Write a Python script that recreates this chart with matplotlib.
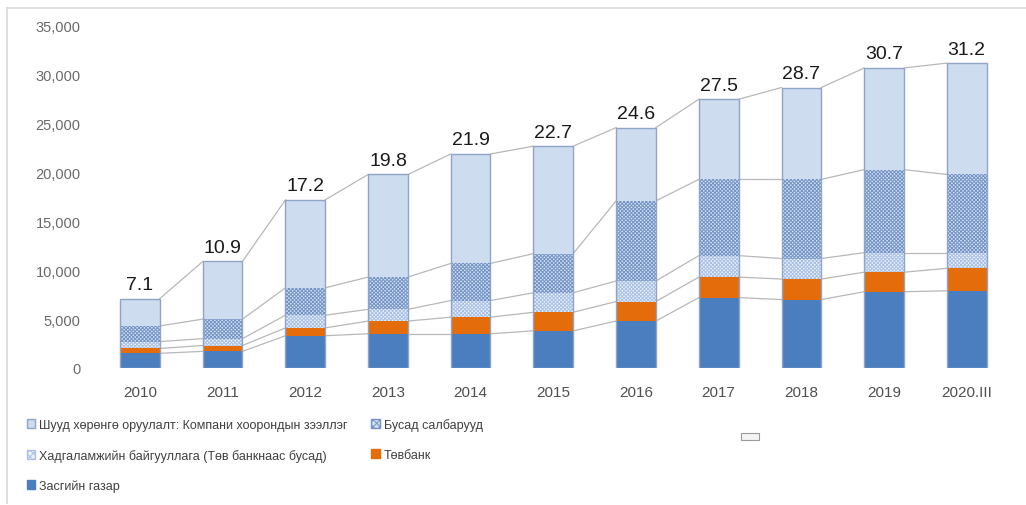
import numpy as np
import matplotlib
matplotlib.use("Agg")
import matplotlib.pyplot as plt
from matplotlib.patches import Patch, Rectangle
from matplotlib.lines import Line2D

plt.rcParams["font.family"] = ["Liberation Sans", "DejaVu Sans"]
plt.rcParams["hatch.linewidth"] = 0.7

YEARS = ["2010", "2011", "2012", "2013", "2014", "2015", "2016", "2017", "2018", "2019", "2020.III"]

# сая ам.доллар, доороос дээш давхарлагдсан
GOV = [1500, 1700, 3300, 3500, 3500, 3800, 4800, 7200, 7000, 7800, 7900]
CENTRAL_BANK = [500, 600, 800, 1300, 1700, 1900, 2000, 2100, 2100, 2000, 2300]
DEPOSIT = [700, 700, 1300, 1200, 1700, 2000, 2100, 2200, 2100, 2000, 1600]
OTHER = [1600, 2000, 2800, 3300, 3800, 4000, 8200, 7800, 8100, 8500, 8000]
FDI = [2800, 5900, 9000, 10500, 11200, 11000, 7500, 8200, 9400, 10400, 11400]
TOTALS = [7.1, 10.9, 17.2, 19.8, 21.9, 22.7, 24.6, 27.5, 28.7, 30.7, 31.2]

LABELS = {
    "gov": "Засгийн газар",
    "cb": "Төвбанк",
    "dep": "Хадгаламжийн байгууллага (Төв банкнаас бусад)",
    "other": "Бусад салбарууд",
    "fdi": "Шууд хөрөнгө оруулалт: Компани хоорондын зээллэг",
}

fig = plt.figure(figsize=(10.26, 5.06), dpi=100)
ax = fig.add_axes([0.0961, 0.2708, 0.8864, 0.6759])

x = np.arange(len(YEARS))
w = 0.48

series = [
    (GOV, dict(color="#4a7ebf", edgecolor="#4a7ebf", linewidth=0)),
    (CENTRAL_BANK, dict(color="#e46c0a", edgecolor="#e46c0a", linewidth=0)),
    (DEPOSIT, dict(color="#eaf1fa", edgecolor="#a9c1e4", hatch="xxxxxxxxx", linewidth=0)),
    (OTHER, dict(color="#d3e0f2", edgecolor="#7393c6", hatch="xxxxxxxxx", linewidth=0)),
    (FDI, dict(color="#cddcef", edgecolor="#cddcef", linewidth=0)),
]

bottom = np.zeros(len(YEARS))
tops = []
for vals, style in series:
    vals = np.array(vals, dtype=float)
    ax.bar(x, vals, w, bottom=bottom, zorder=2, **style)
    bottom = bottom + vals
    tops.append(bottom.copy())

# бар бүрийн хүрээ
ax.bar(x, bottom, w, facecolor="none", edgecolor="#8fa4c6", linewidth=1.0, zorder=3)

# серийн холбох шугамууд
for top in tops:
    for i in range(len(YEARS) - 1):
        ax.plot([x[i] + w / 2, x[i + 1] - w / 2], [top[i], top[i + 1]],
                color="#b8b8b8", linewidth=0.9, zorder=1)

for i, t in enumerate(TOTALS):
    ax.annotate(f"{t:.1f}", xy=(x[i], bottom[i]), xytext=(0, 4),
                textcoords="offset points", ha="center", va="bottom",
                fontsize=14, color="#1a1a1a")

ax.set_xlim(-0.5, len(YEARS) - 0.5)
ax.set_ylim(0, 35000)
ax.set_yticks(np.arange(0, 35001, 5000))
ax.set_yticklabels([f"{v:,}" for v in range(0, 35001, 5000)], fontsize=10.5, color="#6a6a6a")
ax.set_xticks(x)
ax.set_xticklabels(YEARS, fontsize=11, color="#505050")
ax.tick_params(length=0)
ax.tick_params(axis="x", pad=12)
ax.tick_params(axis="y", pad=13)
for s in ax.spines.values():
    s.set_visible(False)

handles = [
    Patch(facecolor="#cddcef", edgecolor="#8fa4c6"),
    Patch(facecolor="#eaf1fa", edgecolor="#a9c1e4", hatch="xxxxx"),
    Patch(facecolor="#4a7ebf", edgecolor="#4a7ebf"),
    Patch(facecolor="#d3e0f2", edgecolor="#7393c6", hatch="xxxxx"),
    Patch(facecolor="#e46c0a", edgecolor="#e46c0a"),
]
labels = [LABELS["fdi"], LABELS["dep"], LABELS["gov"], LABELS["other"], LABELS["cb"]]
fig.legend(handles, labels, ncol=2, loc="upper left", bbox_to_anchor=(0.015, 0.195),
           frameon=False, fontsize=9, handlelength=0.7, handleheight=0.7,
           handletextpad=0.3, columnspacing=1.9, labelspacing=1.45,
           labelcolor="#404040")

# жижиг дүрс ба гадна хүрээ
fig.patches.append(Rectangle((741 / 1026, 65 / 506), 18 / 1026, 7 / 506,
                             transform=fig.transFigure, facecolor="#f4f4f4",
                             edgecolor="#9a9a9a", linewidth=0.8))
fig.lines.append(Line2D([7 / 1026, 1.0], [1 - 9 / 506, 1 - 9 / 506],
                        transform=fig.transFigure, color="#d9d9d9", linewidth=1.2))
fig.lines.append(Line2D([7 / 1026, 7 / 1026], [1 - 9 / 506, 2 / 506],
                        transform=fig.transFigure, color="#d9d9d9", linewidth=1.2))

fig.savefig("out.png", dpi=100)
